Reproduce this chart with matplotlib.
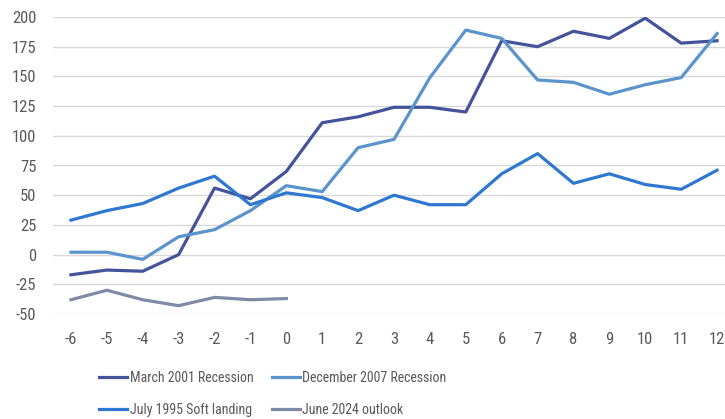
import matplotlib.pyplot as plt
from matplotlib import font_manager

# 月（リセッション開始からの相対位置）
months = list(range(-6, 13))

march_2001 = [-17, -13, -14, 0, 56, 47, 70, 111, 116, 124, 124, 120, 180, 175, 188, 182, 199, 178, 180]
december_2007 = [2, 2, -4, 15, 21, 37, 58, 53, 90, 97, 149, 189, 182, 147, 145, 135, 143, 149, 186]
july_1995 = [29, 37, 43, 56, 66, 42, 52, 48, 37, 50, 42, 42, 68, 85, 60, 68, 59, 55, 71]
june_2024_months = list(range(-6, 1))
june_2024 = [-38, -30, -38, -43, -36, -38, -37]

series_labels = ["March 2001 Recession", "December 2007 Recession",
                 "July 1995 Soft landing", "June 2024 outlook"]
colors = ["#44539A", "#5B93CC", "#2F78D0", "#7F8AA6"]
y_ticks = list(range(-50, 201, 25))

# 細めのフォントがあれば使う
names = {f.name for f in font_manager.fontManager.ttflist}
font = "Roboto"
for cand in ["Liberation Sans Narrow", "Roboto Condensed", "Open Sans Condensed", "Roboto"]:
    if cand in names:
        font = cand
        break
plt.rcParams['font.family'] = [font, 'DejaVu Sans']
plt.rcParams['axes.unicode_minus'] = False

fig = plt.figure(figsize=(7.25, 4.19), dpi=100)
# 右端は元画像で切れているので軸を画像外まで伸ばす
ax = fig.add_axes([53 / 725, 105 / 419, 682 / 725, 297 / 419])

ax.plot(months, march_2001, color=colors[0], lw=2.3, label=series_labels[0])
ax.plot(months, december_2007, color=colors[1], lw=2.3, label=series_labels[1])
ax.plot(months, july_1995, color=colors[2], lw=2.3, label=series_labels[2])
ax.plot(june_2024_months, june_2024, color=colors[3], lw=2.3, label=series_labels[3])

ax.set_xlim(-6.5, 12.5)
ax.set_ylim(-50, 200)
ax.set_yticks(y_ticks)
ax.set_xticks(months)
ax.grid(axis='y', color='#D9D9D9', lw=1)
ax.set_axisbelow(True)
for s in ax.spines.values():
    s.set_visible(False)
ax.tick_params(length=0, labelsize=12, labelcolor='#595959')
ax.tick_params(axis='y', pad=12)
ax.tick_params(axis='x', pad=13)

handles, labels = ax.get_legend_handles_labels()
order = [0, 2, 1, 3]  # 列優先なので並べ替え
fig.legend([handles[i] for i in order], [labels[i] for i in order],
           ncol=2, loc='center', bbox_to_anchor=(273 / 725, 1 - 394 / 419),
           frameon=False, fontsize=10, handlelength=2.0, handletextpad=0.2,
           columnspacing=1.3, labelspacing=1.25, labelcolor='#595959')

fig.savefig("out.png", dpi=100)
